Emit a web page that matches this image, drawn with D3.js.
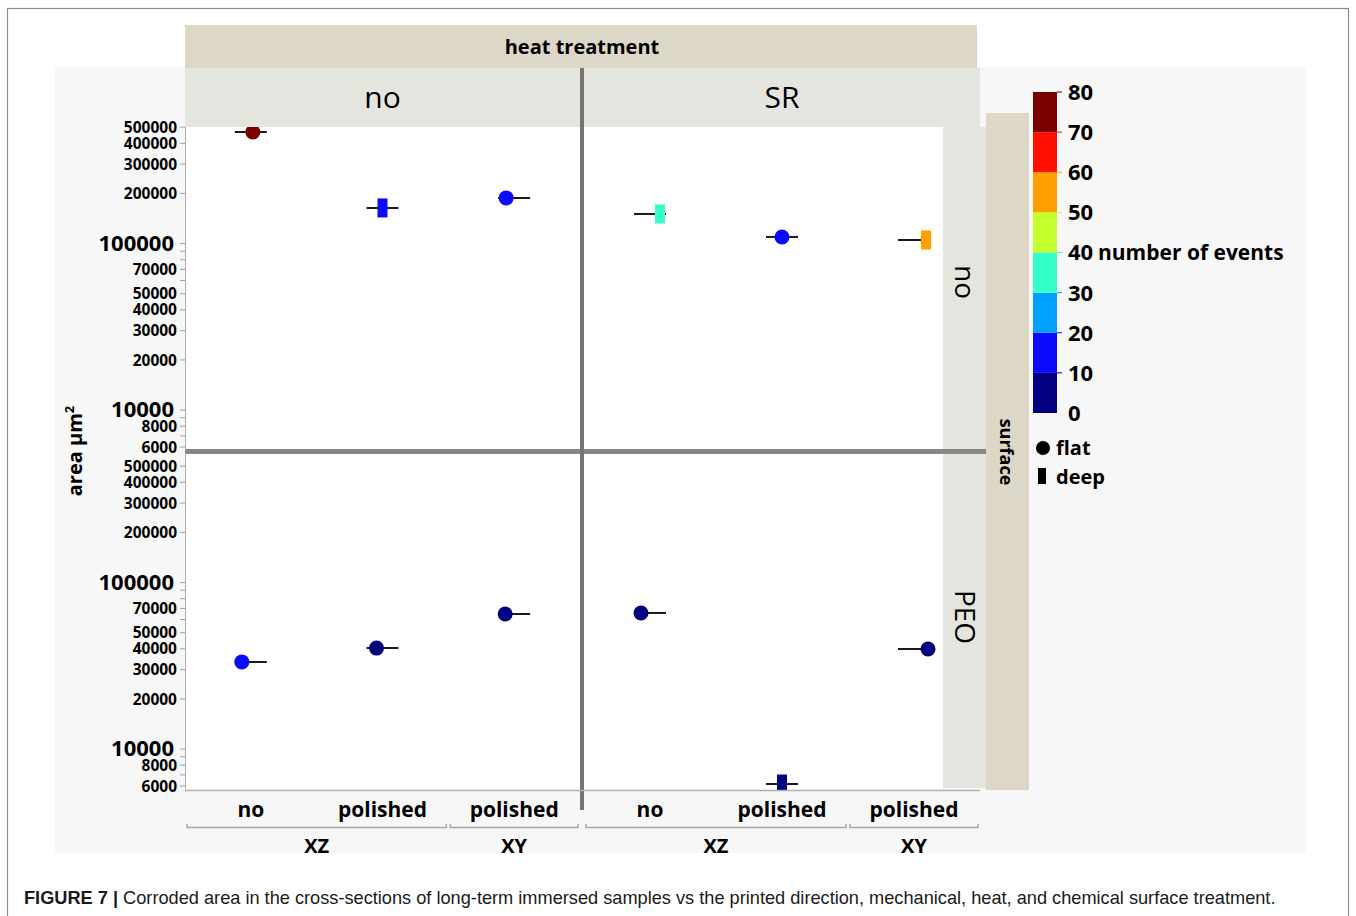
<!DOCTYPE html>
<html>
<head>
<meta charset="utf-8">
<script src="https://cdn.jsdelivr.net/npm/d3@7/dist/d3.min.js"></script>
<style>
  html, body { margin: 0; padding: 0; background: #ffffff; }
  svg { display: block; }
  text { font-family: "Open Sans", "Noto Sans", sans-serif; }
  text.caption { font-family: "Liberation Sans", Arial, sans-serif; }
</style>
</head>
<body>
<svg id="chart" width="1356" height="916"></svg>
<script>
// ---- data ----
const heatLevels = ["no", "SR"];
const surfaceLevels = ["no", "PEO"];
const mechLabels = ["no", "polished", "polished"];
const directionLabels = ["XZ", "XZ", "XY"];

// one record per cell: heat treatment, surface treatment, category index
const pointHeat    = ["no", "no", "no", "SR", "SR", "SR", "no", "no", "no", "SR", "SR", "SR"];
const pointSurface = ["no", "no", "no", "no", "no", "no", "PEO", "PEO", "PEO", "PEO", "PEO", "PEO"];
const pointCategory = [0, 1, 2, 0, 1, 2, 0, 1, 2, 0, 1, 2];
const areaValues  = [468000, 163700, 188000, 150600, 109600, 105100, 33400, 40400, 64800, 65700, 6170, 39900];
const eventCounts = [75, 15, 15, 35, 15, 55, 15, 5, 5, 5, 5, 5];
const pitTypes    = ["flat", "deep", "flat", "deep", "flat", "deep", "flat", "flat", "flat", "flat", "deep", "flat"];

const yTickLabels = [500000, 400000, 300000, 200000, 100000, 70000, 50000, 40000, 30000, 20000, 10000, 8000, 6000];
const yMinorTicks = [90000, 80000, 60000, 9000, 7000];
const colorBreaks = [0, 10, 20, 30, 40, 50, 60, 70, 80];
const colorSwatches = ["#000080", "#0a0aff", "#00a0ff", "#35ffc8", "#c4ff2e", "#ffa000", "#ff1000", "#7a0000"];

// ---- layout ----
const markerNudge = [2, 0, -8, 10, 0, 12, -9, -6, -9, -9, 0, 14];
const panelX = { "no": [185, 580], "SR": [584, 980] };
const panelY = { "no": [114, 451], "PEO": [453, 790] };
const visibleTop = { "no": 127, "PEO": 453 };
const whiteRight = { "no": 580, "SR": 943 };

const svg = d3.select("#chart");
const tan = "#ddd7c7", strip = "#e5e5df", bg = "#f7f7f7";

// page frame and chart background
svg.append("rect").attr("x", 7.5).attr("y", 8.5).attr("width", 1341).attr("height", 930)
  .attr("fill", "#ffffff").attr("stroke", "#8c8c8c").attr("stroke-width", 1.2);
svg.append("rect").attr("x", 55).attr("y", 67).attr("width", 1251).attr("height", 786).attr("fill", bg);

// scales
const xScales = {};
heatLevels.forEach(h => {
  xScales[h] = d3.scaleBand().domain(d3.range(mechLabels.length)).range(panelX[h]).paddingInner(0).paddingOuter(0);
});
const yScales = {};
surfaceLevels.forEach(s => {
  yScales[s] = d3.scaleLog().domain([5680, 600000]).range([panelY[s][1], panelY[s][0]]);
});
const color = d3.scaleThreshold().domain(colorBreaks.slice(1, -1)).range(colorSwatches);

// white panels
heatLevels.forEach(h => surfaceLevels.forEach(s => {
  svg.append("rect")
    .attr("x", panelX[h][0]).attr("y", visibleTop[s])
    .attr("width", whiteRight[h] - panelX[h][0]).attr("height", panelY[s][1] - visibleTop[s])
    .attr("fill", "#ffffff");
}));

// clip per panel
const defs = svg.append("defs");
heatLevels.forEach((h, i) => surfaceLevels.forEach((s, j) => {
  defs.append("clipPath").attr("id", `clip-${i}-${j}`)
    .append("rect").attr("x", panelX[h][0]).attr("y", visibleTop[s])
    .attr("width", panelX[h][1] - panelX[h][0]).attr("height", panelY[s][1] - visibleTop[s]);
}));

// points with mean ticks
const points = areaValues.map((v, i) => ({
  heat: pointHeat[i], surface: pointSurface[i], cat: pointCategory[i],
  area: v, events: eventCounts[i], type: pitTypes[i], nudge: markerNudge[i]
}));

points.forEach(p => {
  const xs = xScales[p.heat], ys = yScales[p.surface];
  const cx = xs(p.cat) + xs.bandwidth() / 2;
  const cy = ys(p.area);
  const g = svg.append("g").attr("clip-path", `url(#clip-${heatLevels.indexOf(p.heat)}-${surfaceLevels.indexOf(p.surface)})`);
  g.append("line").attr("x1", cx - 16).attr("x2", cx + 16).attr("y1", cy).attr("y2", cy)
    .attr("stroke", "#1a1a1a").attr("stroke-width", 2);
  if (p.type === "flat") {
    g.append("circle").attr("cx", cx + p.nudge).attr("cy", cy).attr("r", 7.5).attr("fill", color(p.events));
  } else {
    g.append("rect").attr("x", cx + p.nudge - 5).attr("y", cy - 9.5).attr("width", 10).attr("height", 19)
      .attr("fill", color(p.events));
  }
});

// header strips
svg.append("rect").attr("x", 185).attr("y", 25).attr("width", 792).attr("height", 43).attr("fill", tan);
svg.append("text").attr("x", 582).attr("y", 54).attr("text-anchor", "middle")
  .attr("font-size", 20).attr("font-weight", 700).text("heat treatment");
heatLevels.forEach(h => {
  const x0 = panelX[h][0], x1 = h === "SR" ? 980 : 581;
  svg.append("rect").attr("x", x0).attr("y", 68).attr("width", x1 - x0).attr("height", 59).attr("fill", strip);
  svg.append("text").attr("x", (panelX[h][0] + panelX[h][1]) / 2).attr("y", 108).attr("text-anchor", "middle")
    .attr("font-size", 30).text(h);
});

// row strips on the right
svg.append("rect").attr("x", 986).attr("y", 113).attr("width", 43).attr("height", 677).attr("fill", tan);
svg.append("text").attr("transform", "translate(1000,452) rotate(90)").attr("text-anchor", "middle")
  .attr("font-size", 18).attr("font-weight", 700).text("surface");
svg.append("rect").attr("x", 943).attr("y", 127).attr("width", 43).attr("height", 661).attr("fill", strip);
surfaceLevels.forEach(s => {
  const yc = s === "no" ? 282 : 617;
  svg.append("text").attr("transform", `translate(955,${yc}) rotate(90)`).attr("text-anchor", "middle")
    .attr("font-size", 28).text(s);
});

// separators
svg.append("rect").attr("x", 185).attr("y", 449).attr("width", 801).attr("height", 5).attr("fill", "#878787");
svg.append("rect").attr("x", 580).attr("y", 68).attr("width", 4).attr("height", 742).attr("fill", "#787272");

// y axes
surfaceLevels.forEach(s => {
  const ys = yScales[s];
  const g = svg.append("g");
  g.append("line").attr("x1", 185.5).attr("x2", 185.5).attr("y1", visibleTop[s]).attr("y2", panelY[s][1])
    .attr("stroke", "#b0b0b0").attr("stroke-width", 1);
  yTickLabels.concat(yMinorTicks).forEach(v => {
    g.append("line").attr("x1", 180).attr("x2", 185).attr("y1", ys(v)).attr("y2", ys(v))
      .attr("stroke", "#a0a0a0").attr("stroke-width", 1);
  });
  yTickLabels.forEach(v => {
    const big = v === 100000 || v === 10000;
    g.append("text").attr("x", big ? 174 : 177).attr("y", ys(v)).attr("dy", big ? "0.33em" : "0.36em")
      .attr("text-anchor", "end")
      .attr("font-size", big ? 22 : 15.5).attr("font-weight", 700).text(v);
  });
});
svg.append("text").attr("transform", "translate(82,451) rotate(-90)").attr("text-anchor", "middle")
  .attr("font-size", 20).attr("font-weight", 700)
  .text("area µm").append("tspan").attr("dy", -8).attr("font-size", 13).text("2");

// x axis
svg.append("line").attr("x1", 185).attr("x2", 980).attr("y1", 790.5).attr("y2", 790.5)
  .attr("stroke", "#b0b0b0").attr("stroke-width", 1.5);
heatLevels.forEach(h => {
  const xs = xScales[h];
  mechLabels.forEach((lab, i) => {
    svg.append("text").attr("x", xs(i) + xs.bandwidth() / 2).attr("y", 817).attr("text-anchor", "middle")
      .attr("font-size", 21).attr("font-weight", 700).text(lab);
  });
  const groups = d3.groups(d3.range(mechLabels.length), i => directionLabels[i]);
  groups.forEach(([dir, idx]) => {
    const x0 = xs(idx[0]) + 2, x1 = xs(idx[idx.length - 1]) + xs.bandwidth() - 2;
    svg.append("path").attr("d", `M${x0},824V827.5H${x1}V824`)
      .attr("fill", "none").attr("stroke", "#a8a8a8").attr("stroke-width", 1.5);
    svg.append("text").attr("x", (x0 + x1) / 2).attr("y", 853).attr("text-anchor", "middle")
      .attr("font-size", 20).attr("font-weight", 700).text(dir);
  });
});

// color legend
const cScale = d3.scaleLinear().domain([0, 80]).range([413, 92]);
colorSwatches.forEach((c, i) => {
  svg.append("rect").attr("x", 1033).attr("y", cScale(colorBreaks[i + 1]))
    .attr("width", 24).attr("height", cScale(colorBreaks[i]) - cScale(colorBreaks[i + 1])).attr("fill", c);
  svg.append("line").attr("x1", 1057).attr("x2", 1062)
    .attr("y1", cScale(colorBreaks[i + 1])).attr("y2", cScale(colorBreaks[i + 1]))
    .attr("stroke", c).attr("stroke-width", 1);
});
colorBreaks.forEach(v => {
  svg.append("text").attr("x", 1068).attr("y", cScale(v)).attr("dy", "0.36em")
    .attr("font-size", 22).attr("font-weight", 700).text(v);
});
svg.append("text").attr("x", 1098).attr("y", cScale(40)).attr("dy", "0.36em")
  .attr("font-size", 21).attr("font-weight", 700).text("number of events");

// shape legend
svg.append("circle").attr("cx", 1043).attr("cy", 448).attr("r", 7).attr("fill", "#000");
svg.append("text").attr("x", 1056).attr("y", 448).attr("dy", "0.36em").attr("font-size", 20).attr("font-weight", 700).text("flat");
svg.append("rect").attr("x", 1038).attr("y", 468).attr("width", 8).attr("height", 16).attr("fill", "#000");
svg.append("text").attr("x", 1056).attr("y", 477).attr("dy", "0.36em").attr("font-size", 20).attr("font-weight", 700).text("deep");

// caption
const cap = svg.append("text").attr("class", "caption").attr("x", 24).attr("y", 904)
  .attr("font-size", 18.2).attr("fill", "#1a1a1a");
cap.append("tspan").attr("font-weight", 700).text("FIGURE 7 | ");
cap.append("tspan").text("Corroded area in the cross-sections of long-term immersed samples vs the printed direction, mechanical, heat, and chemical surface treatment.");
</script>
</body>
</html>
